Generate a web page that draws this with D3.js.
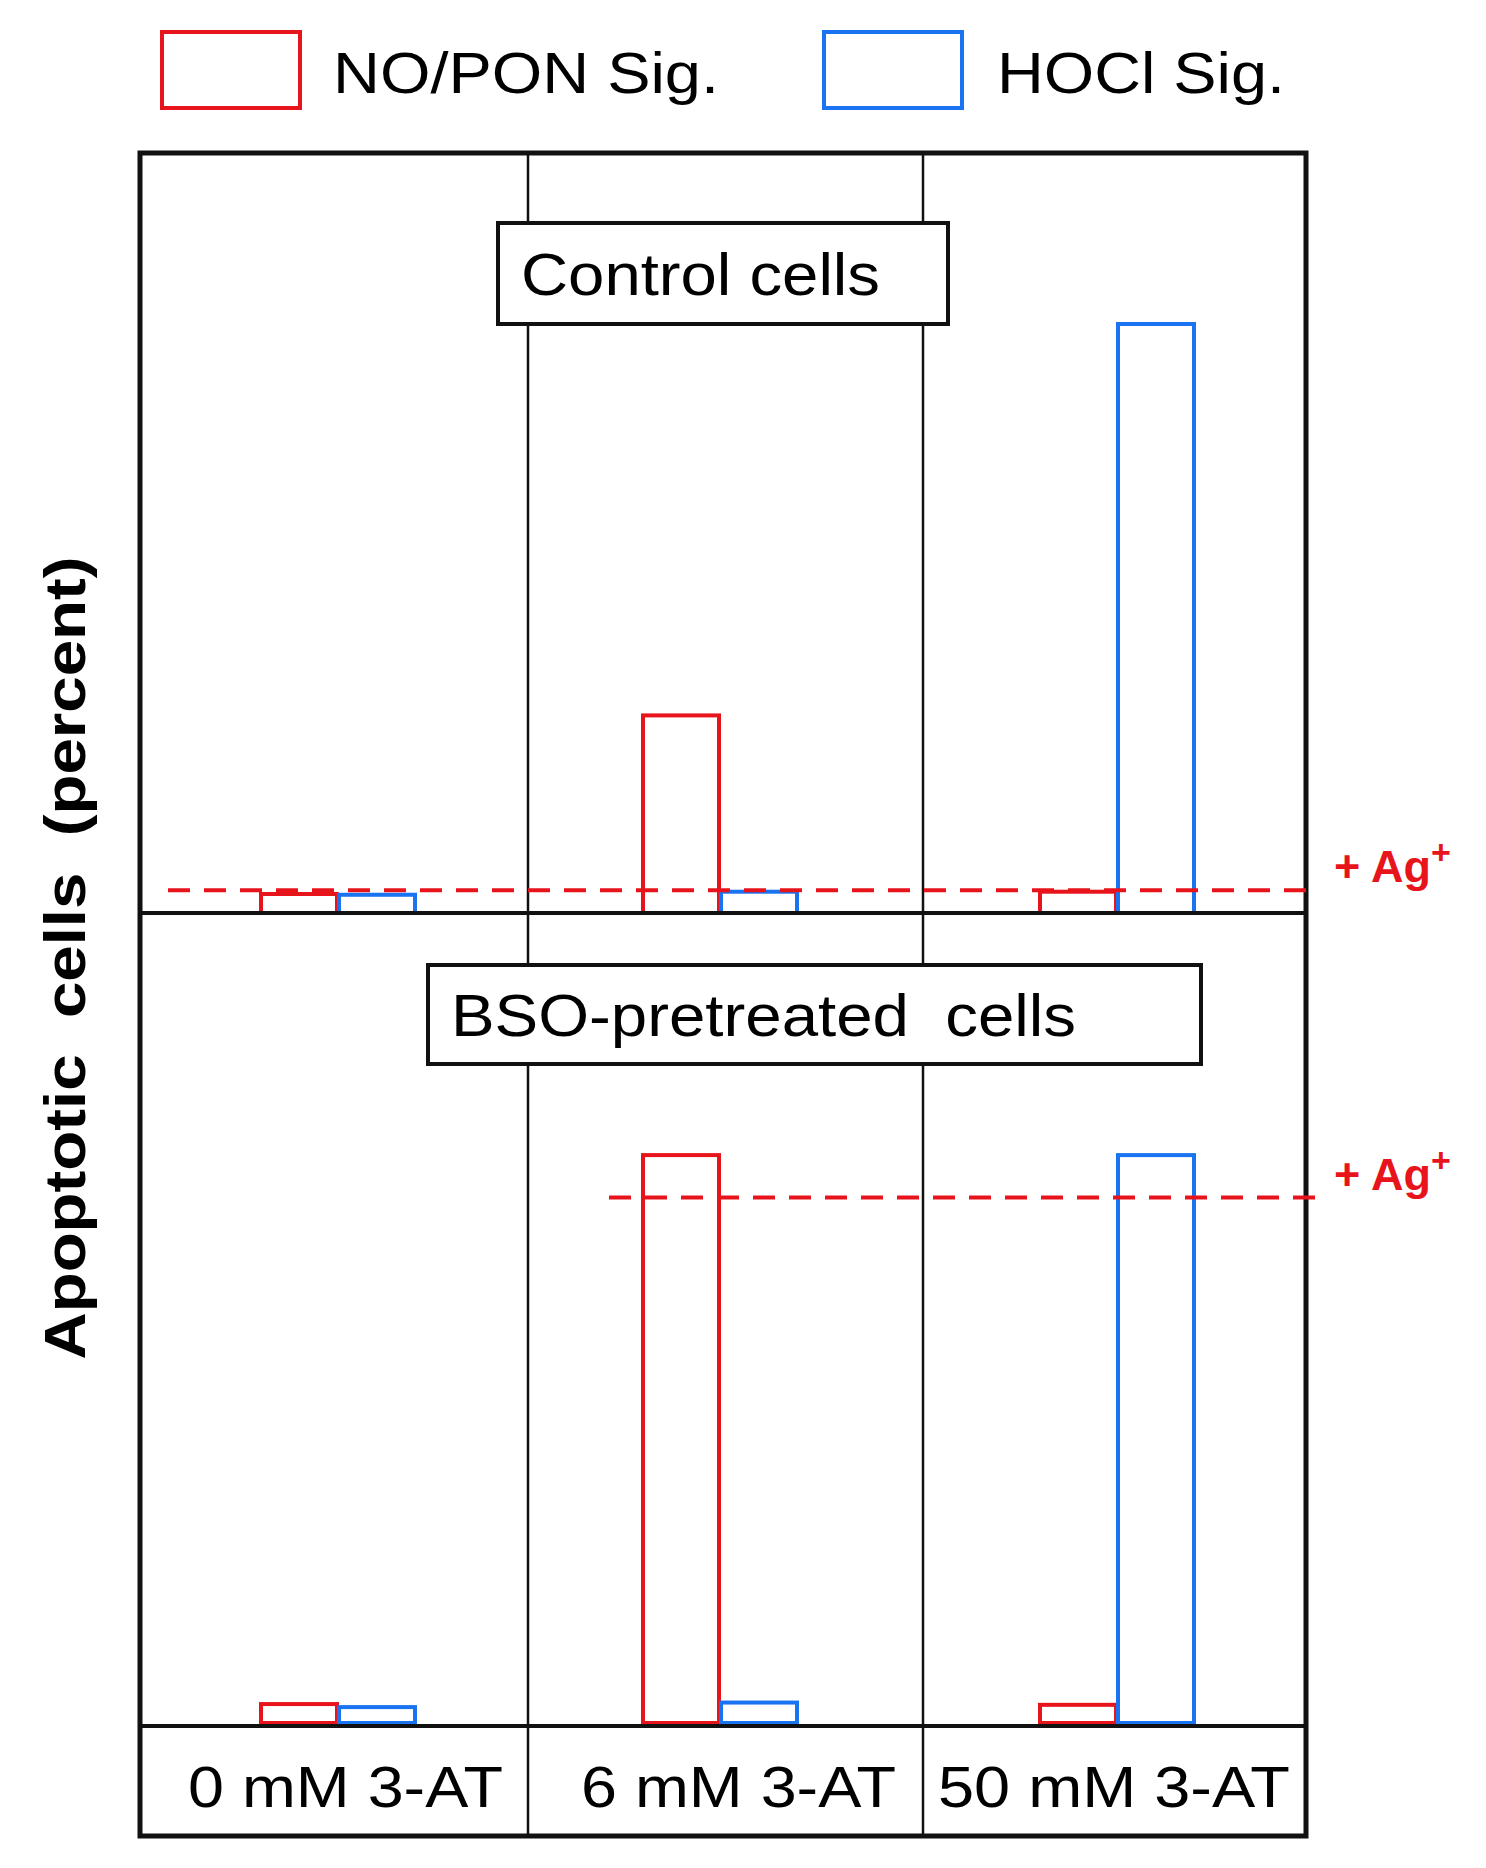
<!DOCTYPE html><html><head><meta charset="utf-8"><script src="https://cdn.jsdelivr.net/npm/d3@7"></script>
<style>body{margin:0;background:#fff}text{font-family:"Liberation Sans",Arial,sans-serif}</style></head><body><svg id="c" width="1486" height="1868"></svg>
<script>
const categories=["0 mM 3-AT","6 mM 3-AT","50 mM 3-AT"];
const series=["NO/PON Sig.","HOCl Sig."];
const colors=["#e8141c","#1a73f0"];
const controlRed=[2.5,26,2.8];
const controlBlue=[2.4,2.8,77.5];
const bsoRed=[2.5,75,2.4];
const bsoBlue=[2.1,2.7,75];
const agControl=3.0, agBso=69.4;
const svg=d3.select("#c");
const L=140,R=1306,T=153,M=913,B=1726,BOT=1836;
const pxPerUnit=(M-T)/100;
const yTop=d3.scaleLinear().domain([0,100]).range([M,T]);
const yBot=d3.scaleLinear().domain([0,(B-M)/pxPerUnit]).range([B-3,M]);
const bw=78;
const colCenters=[337,719,1116];
function bars(y,red,blue){
  [red,blue].forEach((vals,s)=>{
    svg.append("g").selectAll("rect").data(vals).join("rect")
      .attr("x",(d,i)=>colCenters[i]-bw+s*bw+2).attr("width",bw-2)
      .attr("y",d=>y(d)).attr("height",d=>y(0)-y(d))
      .attr("fill","none").attr("stroke",colors[s]).attr("stroke-width",4);
  });
}
bars(yTop,controlRed,controlBlue);
bars(yBot,bsoRed,bsoBlue);
[528,923].forEach(v=>svg.append("line").attr("x1",v).attr("x2",v).attr("y1",T).attr("y2",BOT).attr("stroke","#111").attr("stroke-width",2.5));
svg.append("rect").attr("x",L).attr("y",T).attr("width",R-L).attr("height",BOT-T).attr("fill","none").attr("stroke","#111").attr("stroke-width",5);
svg.append("line").attr("x1",L).attr("x2",R).attr("y1",M).attr("y2",M).attr("stroke","#111").attr("stroke-width",4);
svg.append("line").attr("x1",L).attr("x2",R).attr("y1",B).attr("y2",B).attr("stroke","#111").attr("stroke-width",4);
svg.append("line").attr("x1",168).attr("x2",1318).attr("y1",yTop(agControl)).attr("y2",yTop(agControl)).attr("stroke","#e8141c").attr("stroke-width",4).attr("stroke-dasharray","22,14");
svg.append("line").attr("x1",609).attr("x2",1318).attr("y1",yBot(agBso)).attr("y2",yBot(agBso)).attr("stroke","#e8141c").attr("stroke-width",4).attr("stroke-dasharray","22,14");
[yTop(agControl)-8,yBot(agBso)-8].forEach(yy=>{
  const t=svg.append("text").attr("x",1334).attr("y",yy).attr("fill","#e8141c").attr("font-weight","bold").attr("font-size",45);
  t.append("tspan").text("+ Ag");
  t.append("tspan").text("+").attr("font-size",34).attr("dy",-18);
});
function stretched(sel,len){return sel.attr("textLength",len).attr("lengthAdjust","spacingAndGlyphs");}
function box(x0,y0,w,h,label,len){
  svg.append("rect").attr("x",x0).attr("y",y0).attr("width",w).attr("height",h).attr("fill","#fff").attr("stroke","#111").attr("stroke-width",4);
  stretched(svg.append("text").attr("x",x0+23).attr("y",y0+h/2+21).attr("font-size",60).attr("xml:space","preserve").text(label),len);
}
box(498,223,450,101,"Control cells",359);
box(428,965,773,99,"BSO-pretreated  cells",625);
const catX=[188,581,938], catLen=[315,315,352];
categories.forEach((c,i)=>stretched(svg.append("text").attr("x",catX[i]).attr("y",1807).attr("font-size",58).text(c),catLen[i]));
const lx=[[162,333,386],[824,997,288]];
series.forEach((s,i)=>{
  svg.append("rect").attr("x",lx[i][0]).attr("y",32).attr("width",138).attr("height",76).attr("fill","none").attr("stroke",colors[i]).attr("stroke-width",4);
  stretched(svg.append("text").attr("x",lx[i][1]).attr("y",93).attr("font-size",58).text(s),lx[i][2]);
});
stretched(svg.append("text").attr("transform","translate(85,958) rotate(-90)").attr("text-anchor","middle").attr("font-weight","bold").attr("font-size",58).attr("xml:space","preserve").text("Apoptotic  cells  (percent)"),803);
</script></body></html>
